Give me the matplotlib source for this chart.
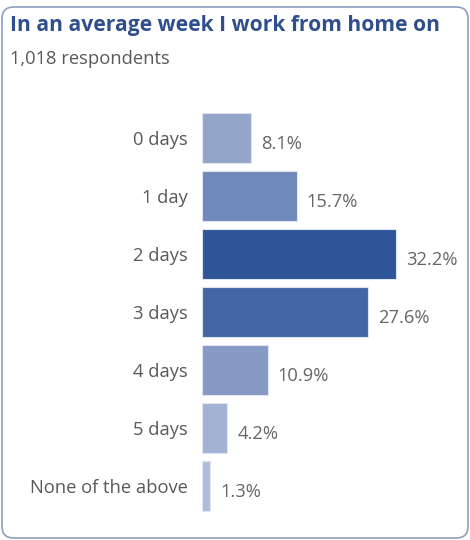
import matplotlib.pyplot as plt
from matplotlib.patches import FancyBboxPatch

plt.rcParams['font.family'] = ['Open Sans', 'DejaVu Sans']

# Survey results
categories = ['0 days', '1 day', '2 days', '3 days', '4 days', '5 days', 'None of the above']
shares = [8.1, 15.7, 32.2, 27.6, 10.9, 4.2, 1.3]
bar_colors = ['#93a6c9', '#6f8aba', '#2e5597', '#4266a4', '#8599c4', '#a2b2d4', '#afbddb']
title = 'In an average week I work from home on'
subtitle = '1,018 respondents'

W, H = 470, 540
fig = plt.figure(figsize=(W / 100, H / 100), dpi=100)

# card outline
card = FancyBboxPatch((2 / W, 2 / H), (W - 4) / W, (H - 9) / H,
                      boxstyle='round,pad=0,rounding_size=0.025',
                      transform=fig.transFigure, facecolor='white',
                      edgecolor='#8e9fc2', linewidth=1.2, mutation_aspect=W / H,
                      zorder=-5)
fig.patches.append(card)

fig.text(10 / W, 1 - 25 / H, title, fontsize=15.1, fontweight='bold',
         color='#2f4e8c', va='center', ha='left')
fig.text(10 / W, 1 - 59 / H, subtitle, fontsize=13.2, color='#595959',
         va='center', ha='left')

ax = fig.add_axes([202 / W, 1 - 515 / H, 268 / W, 406 / H])
ax.set_facecolor('none')
ypos = list(range(len(categories)))
ax.barh(ypos, shares, height=0.86, color=bar_colors, edgecolor='#dfe5f0',
        linewidth=0.8)
ax.set_xlim(0, 268 / 6.02)
ax.set_ylim(len(categories) - 0.5, -0.5)

for y, v in zip(ypos, shares):
    ax.text(v + 1.7, y + 0.1, f'{v}%', fontsize=13.2, color='#666666',
            va='center', ha='left')

ax.set_yticks(ypos)
ax.set_yticklabels(categories, fontsize=13.2, color='#595959')
ax.tick_params(axis='y', length=0, pad=10)
ax.tick_params(axis='x', bottom=False, labelbottom=False)
for s in ax.spines.values():
    s.set_visible(False)

fig.savefig('out.png', dpi=100)
